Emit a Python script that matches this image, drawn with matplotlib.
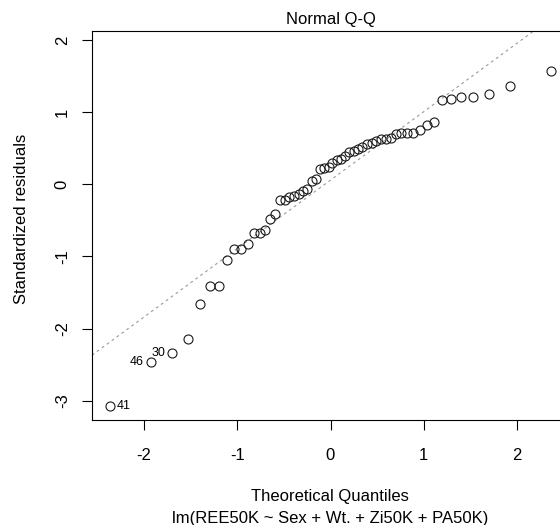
import matplotlib
matplotlib.use("Agg")
import matplotlib.pyplot as plt

plt.rcParams['font.family'] = ['Liberation Sans', 'DejaVu Sans']
plt.rcParams['axes.unicode_minus'] = False

# theoretical normal quantiles (n = 56)
theo = [-2.37, -1.93, -1.70, -1.53, -1.40, -1.29, -1.20, -1.11, -1.03, -0.96,
        -0.89, -0.82, -0.76, -0.70, -0.65, -0.59, -0.54, -0.49, -0.44, -0.39,
        -0.34, -0.30, -0.25, -0.20, -0.16, -0.11, -0.07, -0.02,
        0.02, 0.07, 0.11, 0.16, 0.20, 0.25, 0.30, 0.34, 0.39, 0.44,
        0.49, 0.54, 0.59, 0.65, 0.70, 0.76, 0.82, 0.89, 0.96, 1.03,
        1.11, 1.20, 1.29, 1.40, 1.53, 1.70, 1.93, 2.37]

# sorted standardized residuals
resid = [-3.07, -2.46, -2.34, -2.14, -1.66, -1.41, -1.41, -1.05, -0.89, -0.89,
         -0.82, -0.68, -0.67, -0.63, -0.48, -0.41, -0.21, -0.21, -0.17, -0.16,
         -0.13, -0.09, -0.06, 0.05, 0.07, 0.21, 0.23, 0.24,
         0.30, 0.34, 0.35, 0.39, 0.45, 0.46, 0.49, 0.52, 0.56, 0.57,
         0.60, 0.63, 0.63, 0.64, 0.70, 0.71, 0.72, 0.72, 0.75, 0.83,
         0.86, 1.17, 1.19, 1.21, 1.22, 1.25, 1.36, 1.58]

# labelled points: (index into sorted lists, id, side)
labels = [(0, "41", "right"), (1, "46", "left"), (2, "30", "left")]

# qq reference line
qq_intercept = 0.06
qq_slope = 0.95

fig = plt.figure(figsize=(5.6, 5.25), dpi=100)
ax = fig.add_axes([92/560, 1 - 420/525, (569 - 92)/560, (420 - 31)/525])

ax.axline((0, qq_intercept), slope=qq_slope, color='#999999', lw=0.8,
          linestyle=(0, (2.5, 3)), zorder=1)
ax.plot(theo, resid, 'o', mfc='none', mec='#1a1a1a', ms=6.5, mew=0.8, zorder=2)

for i, txt, side in labels:
    off = 7 if side == "right" else -7
    ax.annotate(txt, (theo[i], resid[i]), xytext=(off, 0), textcoords='offset pixels',
                ha='left' if side == "right" else 'right', va='center', fontsize=9)

ax.set_xlim(-2.558, 2.558)
ax.set_ylim(-3.27, 2.13)
ax.set_xticks([-2, -1, 0, 1, 2])
ax.set_yticks([-3, -2, -1, 0, 1, 2])
ax.tick_params(axis='both', length=7, width=0.8, labelsize=12, direction='out')
ax.tick_params(axis='x', pad=13)
ax.tick_params(axis='y', pad=9)
plt.setp(ax.get_yticklabels(), rotation=90, va='center')
for s in ax.spines.values():
    s.set_linewidth(0.8)

ax.set_title("Normal Q-Q", fontsize=12, pad=5)
fig.text(330/560, 1 - 497/525, "Theoretical Quantiles", ha='center', va='center', fontsize=12)
fig.text(330/560, 1 - 519/525, "lm(REE50K ~ Sex + Wt. + Zi50K + PA50K)", ha='center', va='center', fontsize=12)
fig.text(22/560, 1 - 219/525, "Standardized residuals", ha='center', va='center',
         rotation=90, fontsize=12)

fig.savefig("out.png", dpi=100)
